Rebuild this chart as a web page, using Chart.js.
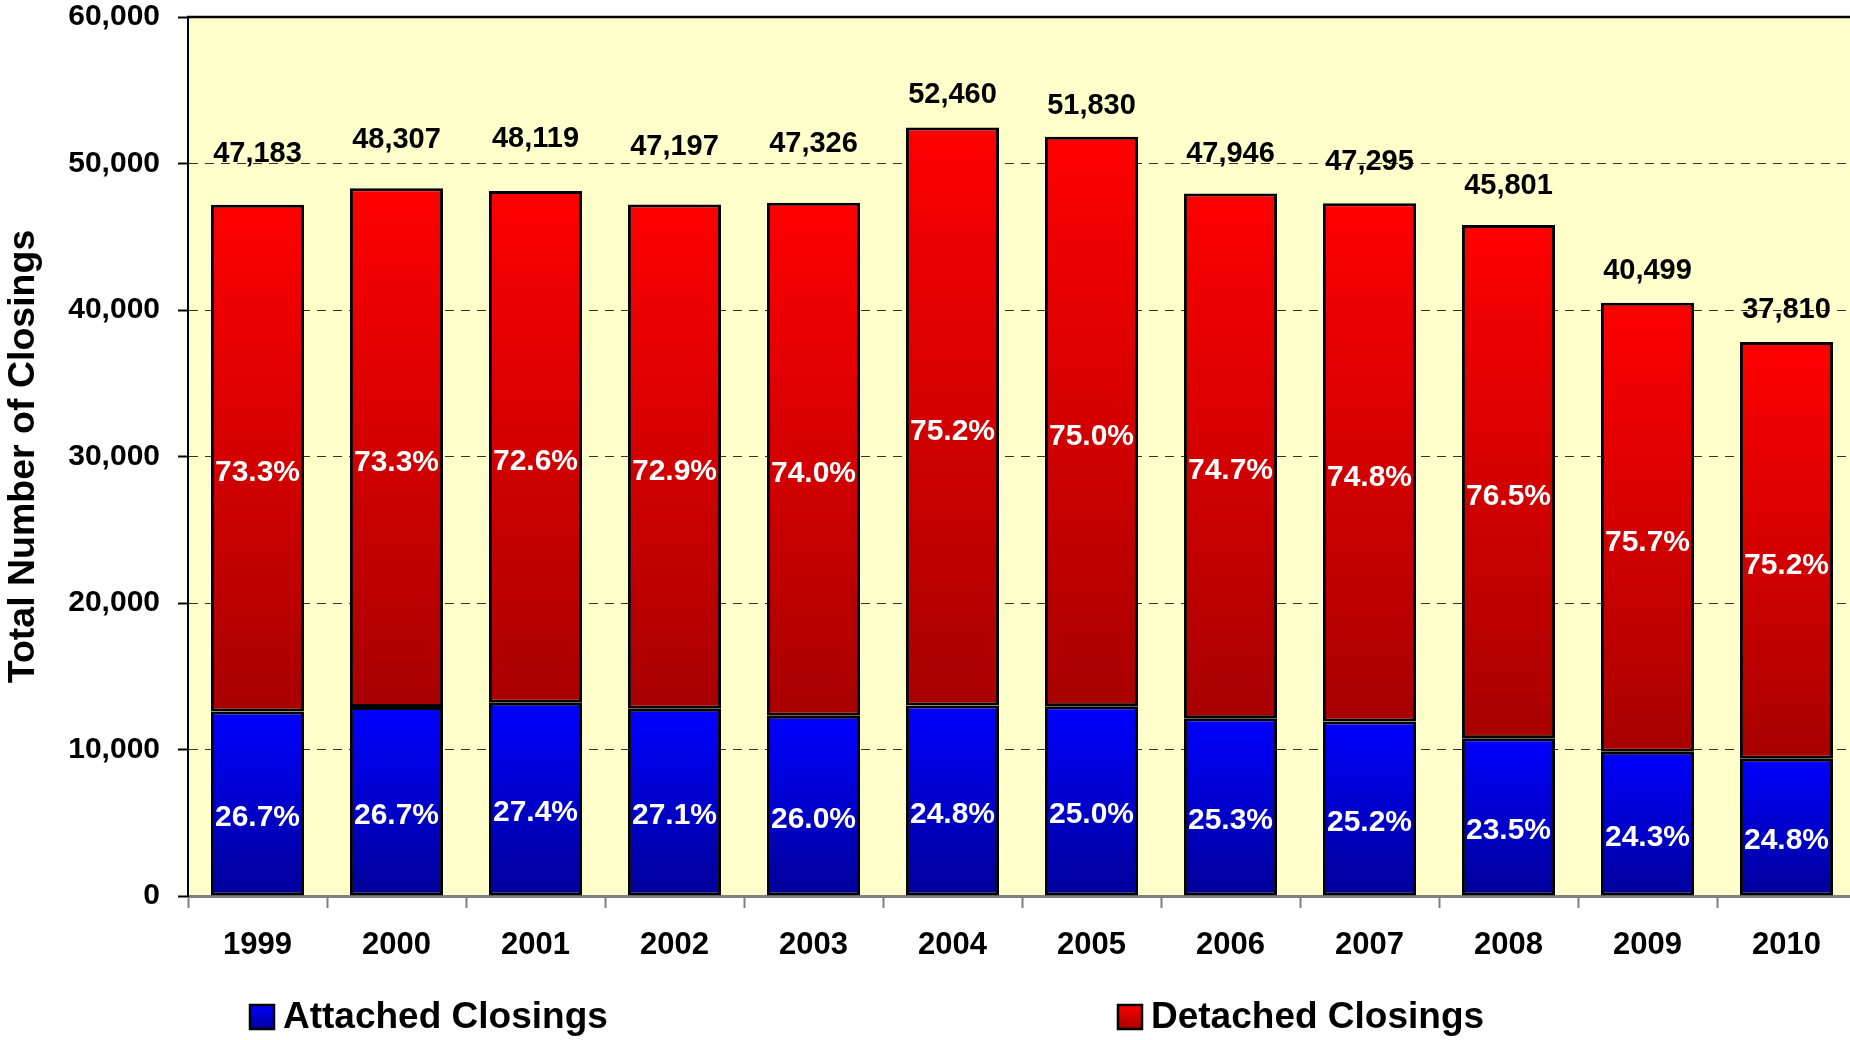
<!DOCTYPE html>
<html>
<head>
<meta charset="utf-8">
<script src="https://cdn.jsdelivr.net/npm/chart.js@4"></script>
<style>
  html, body { margin: 0; padding: 0; background: #fff; overflow: hidden; }
  #wrap { width: 1856px; height: 1040px; position: relative; }
</style>
</head>
<body>
<div id="wrap"><canvas id="grafico"></canvas></div>
<script>
const years = ['1999', '2000', '2001', '2002', '2003', '2004', '2005', '2006', '2007', '2008', '2009', '2010'];
const attached = [12598, 12898, 13185, 12790, 12305, 13010, 12958, 12130, 11918, 10763, 9841, 9377];
const detached = [34585, 35409, 34934, 34407, 35021, 39450, 38872, 35816, 35377, 35038, 30658, 28433];
const totals = [47183, 48307, 48119, 47197, 47326, 52460, 51830, 47946, 47295, 45801, 40499, 37810];
const attachedPct = ['26.7%', '26.7%', '27.4%', '27.1%', '26.0%', '24.8%', '25.0%', '25.3%', '25.2%', '23.5%', '24.3%', '24.8%'];
const detachedPct = ['73.3%', '73.3%', '72.6%', '72.9%', '74.0%', '75.2%', '75.0%', '74.7%', '74.8%', '76.5%', '75.7%', '75.2%'];
const seriesNames = ['Attached Closings', 'Detached Closings'];

const FONT = "'Liberation Sans', Arial, sans-serif";
const blueShade = ['#0000ff', '#00009a'];
const redShade = ['#ff0000', '#a80000'];
// how far each total sits above its bar (px)
const totalLift = [51, 48, 52, 58, 59, 32, 31, 40, 41, 39, 32, 32];

function segmentFill(shade) {
  return (c) => {
    const chart = c.chart;
    if (!chart.chartArea || c.type !== 'data') return shade[0];
    const y = chart.scales.y;
    const i = c.dataIndex;
    const base = c.datasetIndex === 0 ? 0 : attached[i];
    const top = base + c.raw;
    const g = chart.ctx.createLinearGradient(0, y.getPixelForValue(top), 0, y.getPixelForValue(base));
    g.addColorStop(0, shade[0]);
    g.addColorStop(1, shade[1]);
    return g;
  };
}

const plotBg = {
  id: 'plotBg',
  beforeDraw(chart) {
    const { ctx, chartArea: a } = chart;
    ctx.save();
    ctx.fillStyle = '#ffffcc';
    ctx.fillRect(a.left, a.top, a.right - a.left, a.bottom - a.top);
    ctx.restore();
  },
  afterDraw(chart) {
    const { ctx, chartArea: a } = chart;
    ctx.save();
    ctx.strokeStyle = '#000';
    ctx.lineWidth = 2.5;
    ctx.beginPath();
    ctx.moveTo(a.left - 1, a.top);
    ctx.lineTo(a.right, a.top);
    ctx.stroke();
    ctx.restore();
  }
};

const barLabels = {
  id: 'barLabels',
  afterDatasetsDraw(chart) {
    const ctx = chart.ctx;
    const m0 = chart.getDatasetMeta(0).data;
    const m1 = chart.getDatasetMeta(1).data;
    ctx.save();
    ctx.textAlign = 'center';
    ctx.textBaseline = 'middle';
    m1.forEach((el, i) => {
      ctx.font = 'bold 29px ' + FONT;
      ctx.fillStyle = '#000';
      ctx.fillText(totals[i].toLocaleString('en-US'), el.x, el.y - totalLift[i]);
      ctx.font = 'bold 30px ' + FONT;
      ctx.fillStyle = '#fff';
      ctx.fillText(detachedPct[i], el.x, (el.y + el.base) / 2 + 15);
    });
    m0.forEach((el, i) => {
      ctx.fillStyle = '#fff';
      ctx.fillText(attachedPct[i], el.x, (el.y + el.base) / 2 + 14);
    });
    ctx.restore();
  }
};

const bottomLegend = {
  id: 'bottomLegend',
  afterDraw(chart) {
    const ctx = chart.ctx;
    const items = [
      { x: 250, shade: blueShade, text: seriesNames[0] },
      { x: 1118, shade: redShade, text: seriesNames[1] }
    ];
    ctx.save();
    ctx.font = 'bold 37px ' + FONT;
    ctx.textBaseline = 'middle';
    items.forEach(it => {
      const g = ctx.createLinearGradient(0, 1005, 0, 1029);
      g.addColorStop(0, it.shade[0]);
      g.addColorStop(1, it.shade[1]);
      ctx.fillStyle = g;
      ctx.fillRect(it.x, 1005, 24, 24);
      ctx.strokeStyle = '#000';
      ctx.lineWidth = 2.5;
      ctx.strokeRect(it.x, 1005, 24, 24);
      ctx.fillStyle = '#000';
      ctx.fillText(it.text, it.x + 33, 1018);
    });
    ctx.restore();
  }
};

const ctx = document.getElementById('grafico').getContext('2d');
new Chart(ctx, {
  type: 'bar',
  data: {
    labels: years,
    datasets: [
      { label: seriesNames[0], data: attached, backgroundColor: segmentFill(blueShade), borderColor: '#000', borderWidth: 3, borderSkipped: false },
      { label: seriesNames[1], data: detached, backgroundColor: segmentFill(redShade), borderColor: '#000', borderWidth: 3, borderSkipped: false }
    ]
  },
  options: {
    responsive: true,
    maintainAspectRatio: false,
    animation: false,
    layout: { padding: { top: 17, right: 0, left: 0, bottom: 0 } },
    datasets: { bar: { categoryPercentage: 1, barPercentage: 0.67 } },
    plugins: { legend: { display: false }, tooltip: { enabled: false }, title: { display: false } },
    scales: {
      x: {
        stacked: true,
        afterFit: (s) => { s.height = 144; s.paddingLeft = 0; s.paddingRight = 0; },
        grid: { offset: true, drawOnChartArea: false, drawTicks: true, tickLength: 12, tickColor: '#808080', tickWidth: 2 },
        border: { color: '#808080', width: 3 },
        ticks: { color: '#000', font: { family: FONT, size: 31, weight: 'bold' }, padding: 19, maxRotation: 0 }
      },
      y: {
        stacked: true,
        min: 0,
        max: 60000,
        afterFit: (s) => { s.width = 188; s.paddingTop = 0; s.paddingBottom = 0; },
        grid: { color: '#333', lineWidth: 1, tickLength: 10, tickColor: '#000', tickWidth: 2, tickBorderDash: [] },
        border: { color: '#000', width: 2, dash: [9, 7] },
        ticks: { stepSize: 10000, color: '#000', padding: 18, font: { family: FONT, size: 30, weight: 'bold' }, callback: (v) => v.toLocaleString('en-US') },
        title: { display: true, text: 'Total Number of Closings', color: '#000', padding: { top: 1, bottom: 0 }, font: { family: FONT, size: 37.5, weight: 'bold' } }
      }
    }
  },
  plugins: [plotBg, barLabels, bottomLegend]
});
</script>
</body>
</html>
